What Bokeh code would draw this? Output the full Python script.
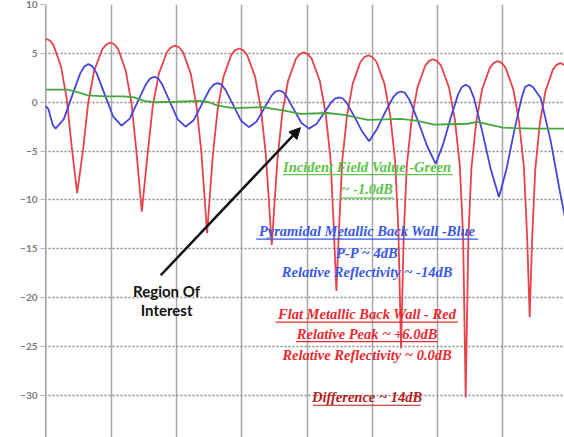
from bokeh.plotting import figure
from bokeh.models import Range1d, SingleIntervalTicker, Label, Arrow, NormalHead, Span
from bokeh.embed import file_html
from bokeh.resources import INLINE

# ---- measured response curves (dB) -------------------------------------
red_x = [0.0, 0.06, 0.118, 0.235, 0.322, 0.394, 0.48,
         0.572, 0.648, 0.74, 0.865, 0.93, 0.99, 1.05,
         1.108, 1.225, 1.312, 1.384, 1.47,
         1.562, 1.638, 1.73, 1.855, 1.92, 1.98, 2.04,
         2.10, 2.22, 2.308, 2.382, 2.47,
         2.558, 2.632, 2.72, 2.84, 2.90, 2.96, 3.02,
         3.083, 3.205, 3.295, 3.37, 3.46,
         3.548, 3.622, 3.71, 3.83, 3.89, 3.95, 4.01,
         4.073, 4.195, 4.285, 4.36, 4.41, 4.45,
         4.489, 4.538, 4.612, 4.70, 4.82, 4.88, 4.94, 5.00,
         5.063, 5.185, 5.275, 5.35, 5.40, 5.44,
         5.481, 5.528, 5.602, 5.69, 5.81, 5.87, 5.93, 5.99,
         6.053, 6.175, 6.265, 6.34, 6.39, 6.43,
         6.471, 6.518, 6.592, 6.68, 6.80, 6.86, 6.92, 6.98,
         7.04, 7.16, 7.248, 7.322, 7.371, 7.41,
         7.447, 7.495, 7.565, 7.65, 7.765, 7.82, 7.88, 7.95]
red_db = [6.5, 6.33, 5.84, 3.6, 0.3, -4.4, -9.3,
          -4.8, -0.1, 3.2, 5.44, 5.93, 6.1, 5.93,
          5.44, 3.2, -0.1, -4.8, -11.2,
          -5.1, -0.4, 2.9, 5.14, 5.63, 5.8, 5.63,
          5.14, 2.9, -0.4, -5.1, -13.4,
          -5.4, -0.7, 2.6, 4.84, 5.33, 5.5, 5.33,
          4.84, 2.6, -0.7, -5.4, -14.6,
          -5.8, -1.1, 2.2, 4.44, 4.93, 5.1, 4.93,
          4.44, 2.2, -1.1, -5.8, -12.9, -19.3,
          -13.2, -6.1, -1.4, 1.9, 4.14, 4.63, 4.8, 4.63,
          4.14, 1.9, -1.4, -6.1, -13.2, -25.2,
          -13.6, -6.5, -1.8, 1.5, 3.74, 4.23, 4.4, 4.23,
          3.74, 1.5, -1.8, -6.5, -13.6, -30.2,
          -13.8, -6.7, -2.0, 1.3, 3.54, 4.03, 4.2, 4.03,
          3.54, 1.3, -2.0, -6.7, -13.8, -22.0,
          -14.0, -6.9, -2.2, 1.1, 3.34, 3.83, 4.0, 3.8]

blue_x = [0.0, 0.04, 0.075, 0.11, 0.15,
          0.275, 0.40, 0.525, 0.59, 0.65, 0.71,
          0.778, 0.905, 1.033, 1.16,
          1.285, 1.41, 1.535, 1.60, 1.66, 1.72,
          1.78, 1.90, 2.02, 2.14,
          2.2625, 2.385, 2.5075, 2.57, 2.63, 2.69,
          2.75, 2.87, 2.99, 3.11,
          3.225, 3.34, 3.455, 3.51, 3.57, 3.63,
          3.685, 3.80, 3.915, 4.03,
          4.145, 4.26, 4.375, 4.43, 4.49, 4.55,
          4.605, 4.72, 4.835, 4.95,
          5.0725, 5.195, 5.3175, 5.38, 5.44, 5.50,
          5.5725, 5.705, 5.8375, 5.97,
          6.085, 6.20, 6.315, 6.37, 6.43, 6.49,
          6.5575, 6.685, 6.8125, 6.94,
          7.055, 7.17, 7.285, 7.34, 7.40, 7.46,
          7.58, 7.73, 7.86, 7.95]
blue_db = [-0.4, -0.7, -1.55, -2.35, -2.7,
           -1.73, 0.6, 2.93, 3.65, 3.9, 3.7,
           2.98, 0.75, -1.48, -2.4,
           -1.67, 0.1, 1.87, 2.45, 2.6, 2.45,
           1.85, 0.05, -1.75, -2.5,
           -1.85, -0.275, 1.30, 1.8, 1.95, 1.8,
           1.29, -0.3, -1.89, -2.55,
           -2.0, -0.675, 0.65, 1.07, 1.2, 1.07,
           0.63, -0.75, -2.13, -2.7,
           -2.23, -1.1, 0.03, 0.38, 0.5, 0.38,
           -0.04, -1.39, -2.88, -4.0,
           -2.73, -1.04, 0.49, 0.95, 1.1, 0.95,
           0.21, -2.01, -4.45, -6.3,
           -4.28, -1.6, 0.83, 1.55, 1.8, 1.55,
           0.42, -3.03, -6.83, -9.7,
           -6.83, -3.03, 0.42, 1.55, 1.8, 1.55,
           0.4, -3.9, -8.7, -11.8]

green_x = [0.0, 0.2, 0.33, 0.5, 0.64, 0.9, 1.2, 1.35, 1.5, 1.66, 2.0, 2.37,
           2.5, 2.63, 2.88, 3.1, 3.32, 3.65, 3.9, 4.1, 4.31, 4.57, 4.93, 5.2,
           5.44, 5.69, 5.95, 6.2, 6.46, 6.61, 7.0, 7.2, 7.47, 7.7, 7.95]
green_db = [1.3, 1.3, 1.3, 1.0, 0.7, 0.6, 0.6, 0.5, 0.15, 0.0, 0.05, 0.15,
            0.0, -0.35, -0.6, -0.55, -0.5, -0.85, -1.2, -1.15, -1.1, -1.3, -1.8, -1.75,
            -1.7, -1.9, -2.3, -2.25, -2.2, -2.0, -2.6, -2.65, -2.7, -2.7, -2.7]

y_ticks = [10, 5, 0, -5, -10, -15, -20, -25, -30]

# ---- annotation texts ----------------------------------------------------
green_lines = ["Incident Field Value -Green", "~ -1.0dB"]
blue_lines = ["Pyramidal Metallic Back Wall -Blue", "P-P ~ 4dB",
              "Relative Reflectivity ~ -14dB"]
red_lines = ["Flat Metallic Back Wall - Red", "Relative Peak ~ +6.0dB",
             "Relative Reflectivity ~ 0.0dB"]
diff_line = "Difference ~ 14dB"
roi_lines = ["Region Of", "Interest"]

RED = "#e8424a"
BLUE = "#4646dc"
GREEN = "#46a83c"
VGRID = "#a8a8a8"

p = figure(width=564, height=437, output_backend="svg", toolbar_location=None,
           x_range=Range1d(-0.02, 7.943), y_range=Range1d(-34.3, 10.0),
           min_border_left=44, min_border_right=0, min_border_top=4,
           min_border_bottom=0, background_fill_color="white",
           border_fill_color="white", outline_line_color=None)

p.xaxis.visible = False
p.xgrid.ticker = SingleIntervalTicker(interval=1)
p.xgrid.grid_line_color = VGRID
p.xgrid.grid_line_width = 1.5
# left edge line of the grid
p.add_layout(Span(location=0, dimension="height", line_color=VGRID, line_width=1.5,
                  level="underlay"))

p.yaxis.ticker = y_ticks
p.yaxis.axis_line_color = None
p.yaxis.major_tick_line_color = "#b0b0b0"
p.yaxis.major_tick_in = 0
p.yaxis.major_tick_out = 4
p.yaxis.minor_tick_line_color = None
p.yaxis.major_label_standoff = 3
p.yaxis.major_label_text_font = "Lato"
p.yaxis.major_label_text_font_style = "bold"
p.yaxis.major_label_text_font_size = "10px"
p.yaxis.major_label_text_color = "#7a7a7a"
p.ygrid.grid_line_color = "#8a8a8a"
p.ygrid.grid_line_dash = "2 2"
p.ygrid.grid_line_width = 1.5

p.line(red_x, red_db, line_color=RED, line_width=1.8)
p.line(blue_x, blue_db, line_color=BLUE, line_width=1.8)
p.line(green_x, green_db, line_color=GREEN, line_width=1.8)

# arrow pointing at the region of interest
p.add_layout(Arrow(end=NormalHead(size=11, fill_color="#111111", line_color="#111111"),
                   x_start=1.76, y_start=-17.7, x_end=3.90, y_end=-2.6,
                   line_color="#111111", line_width=2.5))

for txt, yy in zip(roi_lines, [-19.3, -21.3]):
    p.add_layout(Label(x=1.85, y=yy, text=txt, text_align="center",
                       text_baseline="middle", text_font="Lato",
                       text_font_style="bold", text_font_size="15px",
                       text_color="#111111"))

CX = 4.92


def serif_label(txt, yy, color):
    p.add_layout(Label(x=CX, y=yy, text=txt, text_align="center",
                       text_baseline="middle", text_font="Liberation Serif",
                       text_font_style="bold italic", text_font_size="14.5px",
                       text_color=color))


GREEN_TXT = "#5cc44a"
BLUE_TXT = "#3a58e6"
RED_TXT = "#ea2a30"
DIFF_TXT = "#b41c1c"

for txt, yy in zip(green_lines, [-6.6, -8.9]):
    serif_label(txt, yy, GREEN_TXT)
for txt, yy in zip(blue_lines, [-13.15, -15.4, -17.4]):
    serif_label(txt, yy, BLUE_TXT)
for txt, yy in zip(red_lines, [-21.7, -23.7, -25.9]):
    serif_label(txt, yy, RED_TXT)
serif_label(diff_line, -30.2, DIFF_TXT)

# underlines under the headings
uls = [(3.63, 6.23, -7.4, GREEN_TXT), (4.49, 5.33, -9.8, GREEN_TXT),
       (3.22, 6.62, -14.0, BLUE_TXT), (3.52, 6.31, -22.5, RED_TXT),
       (3.83, 6.00, -24.5, RED_TXT), (4.09, 5.74, -31.0, DIFF_TXT)]
for x0, x1, yy, c in uls:
    p.segment(x0=[x0], y0=[yy], x1=[x1], y1=[yy], line_color=c, line_width=1.2)

open("out.html", "w").write(file_html(p, INLINE))
